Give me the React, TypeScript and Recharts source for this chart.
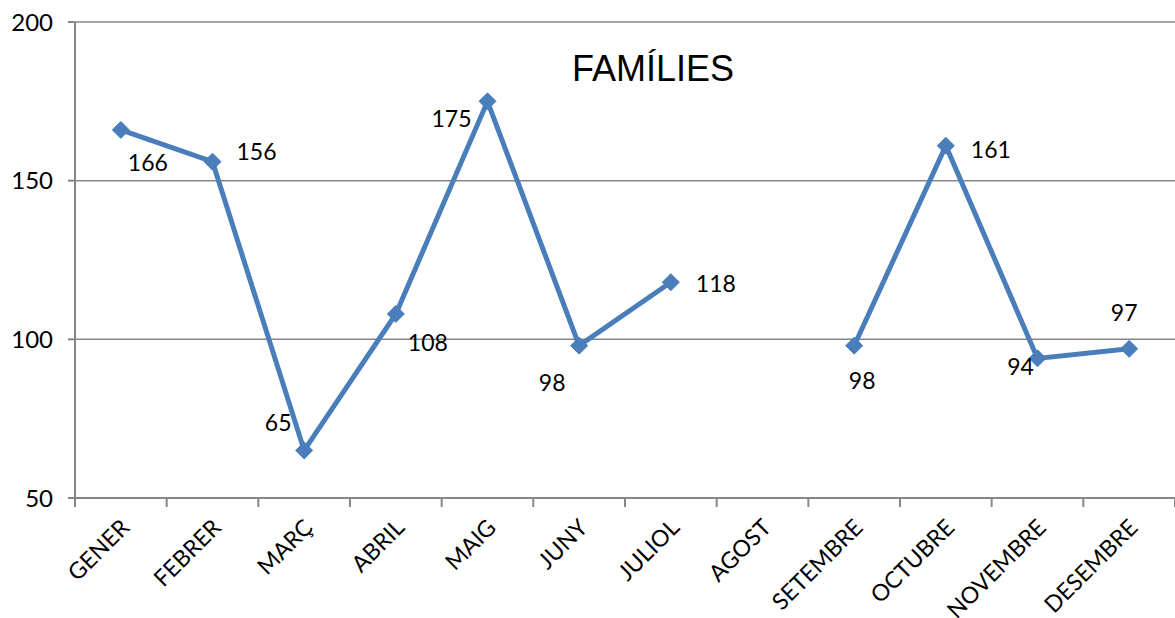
import { CartesianGrid, LabelList, Line, LineChart, XAxis, YAxis } from "recharts";

const MONTHS = [
  "GENER", "FEBRER", "MARÇ", "ABRIL", "MAIG", "JUNY",
  "JULIOL", "AGOST", "SETEMBRE", "OCTUBRE", "NOVEMBRE", "DESEMBRE",
];
const FAMILIES: (number | null)[] = [166, 156, 65, 108, 175, 98, 118, null, 98, 161, 94, 97];
const Y_TICKS = [50, 100, 150, 200];
const TITLE = "FAMÍLIES";

// where each data label sits relative to its point (dx, dy)
const LABEL_OFFSETS: [number, number][] = [
  [27, 32], [44, -11], [-26, -28], [32, 28], [-36, 17], [-27, 36],
  [45, 1], [0, 0], [8, 34], [45, 3], [-17, 8], [-5, -37],
];

const W = 1175;
const H = 618;
const LEFT = 75;
const BAND = (W - LEFT) / MONTHS.length;
const BLUE = "#4a7ebb";
const GRID = "#868686";
const LABEL_FONT = "Lato, 'Open Sans', sans-serif";

const data = MONTHS.map((m, i) => ({ month: m, value: FAMILIES[i] }));

function Diamond(props: any) {
  const { cx, cy, value } = props;
  if (value == null || cx == null || cy == null) return null;
  const r = 8.5;
  return (
    <polygon
      points={`${cx},${cy - r} ${cx + r},${cy} ${cx},${cy + r} ${cx - r},${cy}`}
      fill={BLUE}
      stroke={BLUE}
    />
  );
}

function MonthTick(props: any) {
  const { x, y, payload, index } = props;
  const last = index === MONTHS.length - 1;
  const tx = x + 10;
  const ty = y + 23;
  return (
    <g>
      <line x1={x - BAND / 2} x2={x - BAND / 2} y1={y - 8} y2={y + 1} stroke={GRID} strokeWidth={2} />
      {last && <line x1={x + BAND / 2} x2={x + BAND / 2} y1={y - 8} y2={y + 1} stroke={GRID} strokeWidth={2} />}
      <text
        x={tx}
        y={ty}
        textAnchor="end"
        transform={`rotate(-45, ${tx}, ${ty})`}
        fontSize={23}
        fontFamily={LABEL_FONT}
        fill="#000"
      >
        {payload.value}
      </text>
    </g>
  );
}

function PointLabel(props: any) {
  const { x, y, value, index } = props;
  if (value == null) return null;
  const [dx, dy] = LABEL_OFFSETS[index];
  return (
    <text
      x={x + dx}
      y={y + dy}
      textAnchor="middle"
      dominantBaseline="central"
      fontSize={23}
      fontFamily={LABEL_FONT}
      fill="#000"
    >
      {value}
    </text>
  );
}

export default function App() {
  return (
    <div style={{ position: "absolute", left: 0, top: 0, width: W, height: H, background: "#fff" }}>
      <LineChart width={W} height={H} data={data} margin={{ top: 22, right: 0, left: 0, bottom: 0 }}>
        <CartesianGrid vertical={false} stroke={GRID} strokeWidth={1.5} />
        <XAxis
          dataKey="month"
          height={120}
          interval={0}
          padding={{ left: BAND / 2, right: BAND / 2 }}
          axisLine={{ stroke: GRID, strokeWidth: 2 }}
          tickLine={false}
          tick={<MonthTick />}
        />
        <YAxis
          width={LEFT}
          domain={[50, 200]}
          ticks={Y_TICKS}
          axisLine={{ stroke: GRID, strokeWidth: 2 }}
          tickLine={{ stroke: GRID, strokeWidth: 2 }}
          tickSize={7}
          tickMargin={15}
          tick={{ fontSize: 24, fontFamily: LABEL_FONT, fill: "#000" }}
        />
        <Line
          dataKey="value"
          stroke={BLUE}
          strokeWidth={5}
          dot={<Diamond />}
          activeDot={false}
          connectNulls={false}
          isAnimationActive={false}
        >
          <LabelList dataKey="value" content={<PointLabel />} />
        </Line>
      </LineChart>
      <div
        style={{
          position: "absolute",
          left: 0,
          top: 49,
          width: 1306,
          textAlign: "center",
          fontFamily: "'Liberation Sans', Arial, sans-serif",
          fontSize: 36,
          lineHeight: "40px",
          color: "#000",
        }}
      >
        {TITLE}
      </div>
    </div>
  );
}
